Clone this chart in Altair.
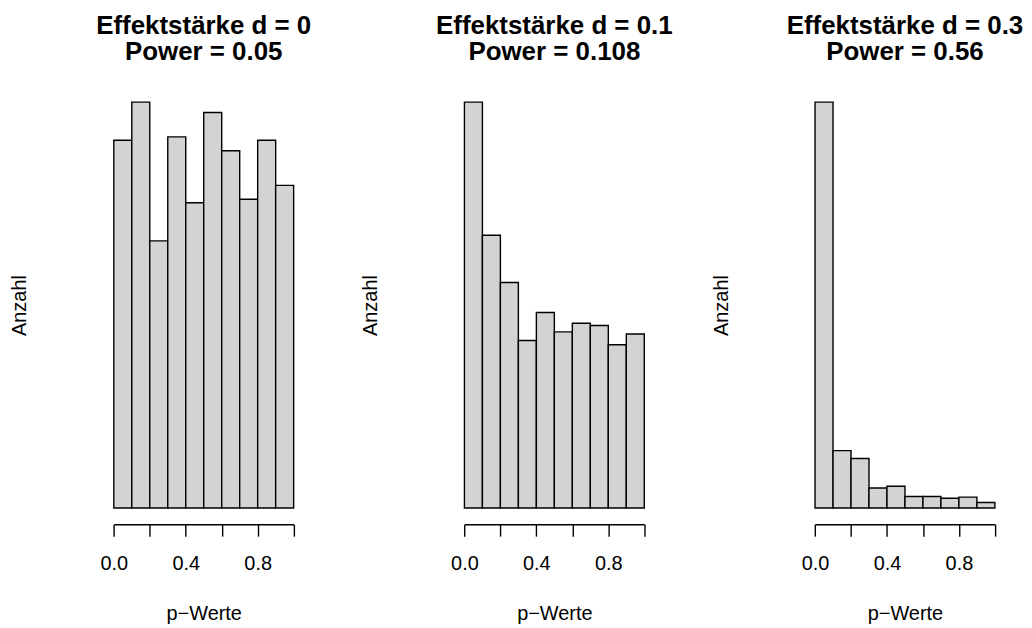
import altair as alt
import pandas as pd

# ---- data ----
bin_edges = [0.0, 0.1, 0.2, 0.3, 0.4, 0.5, 0.6, 0.7, 0.8, 0.9, 1.0]
title_effect = ["Effektstärke d = 0", "Effektstärke d = 0.1", "Effektstärke d = 0.3"]
title_power = ["Power = 0.05", "Power = 0.108", "Power = 0.56"]
counts_d0 = [106, 117, 77, 107, 88, 114, 103, 89, 106, 93]
counts_d01 = [189, 127, 105, 78, 91, 82, 86, 85, 76, 81]
counts_d03 = [672, 95, 82, 33, 36, 19, 19, 16, 18, 9]
x_ticks = [0.0, 0.2, 0.4, 0.6, 0.8, 1.0]

FONT = "Liberation Sans"
W = 195
H = 440
PAD = W * 0.04 / 1.08


def panel(counts, t1, t2):
    df = pd.DataFrame({"lo": bin_edges[:-1], "hi": bin_edges[1:], "n": counts})
    m = max(counts)
    return (
        alt.Chart(
            df,
            title=alt.TitleParams(
                text=[t1, t2],
                font=FONT,
                fontSize=26,
                fontWeight="bold",
                color="black",
                anchor="middle",
                frame="group",
                lineHeight=26.5,
                offset=21,
            ),
        )
        .mark_bar(fill="#D3D3D3", stroke="black", strokeWidth=1.4)
        .encode(
            x=alt.X(
                "lo:Q",
                scale=alt.Scale(domain=[0, 1], range=[PAD, W - PAD], nice=False, zero=False),
                axis=alt.Axis(
                    values=x_ticks,
                    title="p\u2212Werte",
                    titleFont=FONT,
                    titleFontSize=20,
                    titleFontWeight="normal",
                    titleColor="black",
                    titlePadding=31,
                    labelFont=FONT,
                    labelFontSize=20,
                    labelColor="black",
                    labelPadding=17,
                    labelFlush=False,
                    labelOverlap=False,
                    labelExpr="(round(datum.value*10) % 4 == 0) ? format(datum.value, '.1f') : ''",
                    tickSize=12,
                    tickWidth=1.4,
                    tickColor="black",
                    domainColor="black",
                    domainWidth=1.4,
                    grid=False,
                ),
            ),
            x2="hi:Q",
            y=alt.Y(
                "n:Q",
                scale=alt.Scale(domain=[-0.04 * m, 1.04 * m], nice=False, zero=False),
                axis=alt.Axis(
                    title="Anzahl",
                    titleFont=FONT,
                    titleFontSize=20,
                    titleFontWeight="normal",
                    titleColor="black",
                    titlePadding=77,
                    domain=False,
                    ticks=False,
                    labels=False,
                    grid=False,
                ),
            ),
            y2=alt.datum(0),
        )
        .properties(width=W, height=H)
    )


charts = [
    panel(c, a, b)
    for c, a, b in zip([counts_d0, counts_d01, counts_d03], title_effect, title_power)
]

chart = (
    alt.hconcat(*charts, spacing=157, bounds="flush")
    .properties(padding={"left": 2, "top": 3, "right": 0, "bottom": 0}, background="white")
    .configure_view(stroke=None)
)

chart.save("out.html", embed_options={"renderer": "svg", "actions": False})
